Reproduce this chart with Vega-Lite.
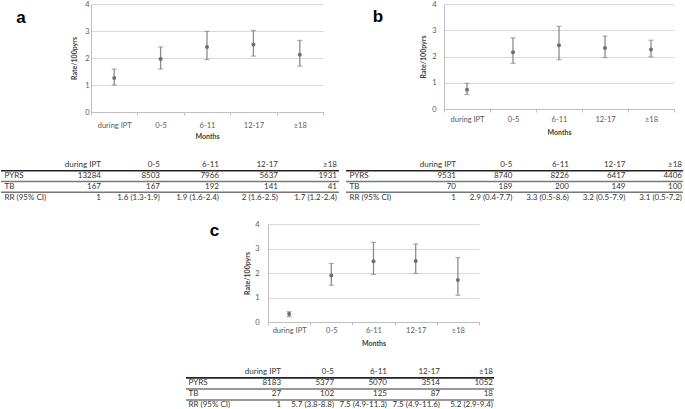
{
  "$schema": "https://vega.github.io/schema/vega-lite/v6.json",
  "padding": 0,
  "spacing": 0,
  "datasets": {
    "est": [
      {"panel": "a", "period": "during IPT", "rate": 1.26, "lo": 1.0, "hi": 1.59},
      {"panel": "a", "period": "0-5", "rate": 1.96, "lo": 1.59, "hi": 2.41},
      {"panel": "a", "period": "6-11", "rate": 2.41, "lo": 1.94, "hi": 2.99},
      {"panel": "a", "period": "12-17", "rate": 2.5, "lo": 2.07, "hi": 3.02},
      {"panel": "a", "period": "≥18", "rate": 2.12, "lo": 1.7, "hi": 2.65},
      {"panel": "b", "period": "during IPT", "rate": 0.73, "lo": 0.55, "hi": 0.98},
      {"panel": "b", "period": "0-5", "rate": 2.16, "lo": 1.74, "hi": 2.71},
      {"panel": "b", "period": "6-11", "rate": 2.43, "lo": 1.88, "hi": 3.15},
      {"panel": "b", "period": "12-17", "rate": 2.32, "lo": 1.96, "hi": 2.78},
      {"panel": "b", "period": "≥18", "rate": 2.27, "lo": 1.99, "hi": 2.62},
      {"panel": "c", "period": "during IPT", "rate": 0.33, "lo": 0.22, "hi": 0.42},
      {"panel": "c", "period": "0-5", "rate": 1.9, "lo": 1.5, "hi": 2.39},
      {"panel": "c", "period": "6-11", "rate": 2.48, "lo": 1.94, "hi": 3.25},
      {"panel": "c", "period": "12-17", "rate": 2.49, "lo": 1.98, "hi": 3.18},
      {"panel": "c", "period": "≥18", "rate": 1.71, "lo": 1.09, "hi": 2.63}
    ],
    "tbl": [
      {"panel": "a", "row": "hdr", "during IPT": "during IPT", "0-5": "0-5", "6-11": "6-11", "12-17": "12-17", "≥18": "≥18"},
      {"panel": "a", "row": "PYRS", "during IPT": "13284", "0-5": "8503", "6-11": "7966", "12-17": "5637", "≥18": "1931"},
      {"panel": "a", "row": "TB", "during IPT": "167", "0-5": "167", "6-11": "192", "12-17": "141", "≥18": "41"},
      {"panel": "a", "row": "RR (95% CI)", "during IPT": "1", "0-5": "1.6 (1.3-1.9)", "6-11": "1.9 (1.6-2.4)", "12-17": "2 (1.6-2.5)", "≥18": "1.7 (1.2-2.4)"},
      {"panel": "b", "row": "hdr", "during IPT": "during IPT", "0-5": "0-5", "6-11": "6-11", "12-17": "12-17", "≥18": "≥18"},
      {"panel": "b", "row": "PYRS", "during IPT": "9531", "0-5": "8740", "6-11": "8226", "12-17": "6417", "≥18": "4406"},
      {"panel": "b", "row": "TB", "during IPT": "70", "0-5": "189", "6-11": "200", "12-17": "149", "≥18": "100"},
      {"panel": "b", "row": "RR (95% CI)", "during IPT": "1", "0-5": "2.9 (0.4-7.7)", "6-11": "3.3 (0.5-8.6)", "12-17": "3.2 (0.5-7.9)", "≥18": "3.1 (0.5-7.2)"},
      {"panel": "c", "row": "hdr", "during IPT": "during IPT", "0-5": "0-5", "6-11": "6-11", "12-17": "12-17", "≥18": "≥18"},
      {"panel": "c", "row": "PYRS", "during IPT": "8183", "0-5": "5377", "6-11": "5070", "12-17": "3514", "≥18": "1052"},
      {"panel": "c", "row": "TB", "during IPT": "27", "0-5": "102", "6-11": "125", "12-17": "87", "≥18": "18"},
      {"panel": "c", "row": "RR (95% CI)", "during IPT": "1", "0-5": "5.7 (3.8-8.8)", "6-11": "7.5 (4.9-11.3)", "12-17": "7.5 (4.9-11.6)", "≥18": "5.2 (2.9-9.4)"}
    ]
  },
  "vconcat": [
    {
      "hconcat": [
        {
          "width": 90, "height": 38,
          "data": {"values": [{"label": "a"}]},
          "mark": {"type": "text", "font": "Liberation Sans", "fontSize": 17, "fontWeight": "bold", "color": "#000", "baseline": "alphabetic", "align": "center", "dx": -25},
          "encoding": {"text": {"field": "label"}}
        },
        {
          "width": 232, "height": 108,
          "data": {"name": "est"},
          "transform": [{"filter": "datum.panel === 'a'"}],
          "encoding": {"x": {"field": "period", "type": "nominal", "sort": ["during IPT", "0-5", "6-11", "12-17", "≥18"], "scale": {"type": "band", "paddingInner": 0, "paddingOuter": 0}, "axis": {"title": "Months", "labelPadding": 6.5, "titlePadding": 3}}},
          "layer": [
            {"mark": {"type": "rule", "color": "#8c8c8c", "strokeWidth": 1.3},
             "encoding": {"y": {"field": "lo", "type": "quantitative", "scale": {"domain": [0, 4], "nice": false}, "axis": {"title": "Rate/100pyrs", "values": [0, 1, 2, 3, 4], "grid": true, "labelPadding": 2, "titlePadding": 7}}, "y2": {"field": "hi"}}},
            {"mark": {"type": "tick", "color": "#8c8c8c", "size": 5, "thickness": 1.2}, "encoding": {"y": {"field": "lo", "type": "quantitative", "scale": {"domain": [0, 4], "nice": false}, "axis": {"title": "Rate/100pyrs", "values": [0, 1, 2, 3, 4], "grid": true, "labelPadding": 2, "titlePadding": 7}}}},
            {"mark": {"type": "tick", "color": "#8c8c8c", "size": 5, "thickness": 1.2}, "encoding": {"y": {"field": "hi", "type": "quantitative", "scale": {"domain": [0, 4], "nice": false}, "axis": {"title": "Rate/100pyrs", "values": [0, 1, 2, 3, 4], "grid": true, "labelPadding": 2, "titlePadding": 7}}}},
            {"mark": {"type": "circle", "color": "#6e6e6e", "size": 16, "opacity": 1}, "encoding": {"y": {"field": "rate", "type": "quantitative", "scale": {"domain": [0, 4], "nice": false}, "axis": {"title": "Rate/100pyrs", "values": [0, 1, 2, 3, 4], "grid": true, "labelPadding": 2, "titlePadding": 7}}}}
          ]
        },
        {
          "width": 121, "height": 35,
          "data": {"values": [{"label": "b"}]},
          "mark": {"type": "text", "font": "Liberation Sans", "fontSize": 17, "fontWeight": "bold", "color": "#000", "baseline": "alphabetic", "align": "center", "dx": -5.5},
          "encoding": {"text": {"field": "label"}}
        },
        {
          "width": 230, "height": 105,
          "data": {"name": "est"},
          "transform": [{"filter": "datum.panel === 'b'"}],
          "encoding": {"x": {"field": "period", "type": "nominal", "sort": ["during IPT", "0-5", "6-11", "12-17", "≥18"], "scale": {"type": "band", "paddingInner": 0, "paddingOuter": 0}, "axis": {"title": "Months", "labelPadding": 3.7, "titlePadding": 4.8}}},
          "layer": [
            {"mark": {"type": "rule", "color": "#8c8c8c", "strokeWidth": 1.3},
             "encoding": {"y": {"field": "lo", "type": "quantitative", "scale": {"domain": [0, 4], "nice": false}, "axis": {"title": "Rate/100pyrs", "values": [0, 1, 2, 3, 4], "grid": true, "labelPadding": 8, "titlePadding": 5}}, "y2": {"field": "hi"}}},
            {"mark": {"type": "tick", "color": "#8c8c8c", "size": 5, "thickness": 1.2}, "encoding": {"y": {"field": "lo", "type": "quantitative", "scale": {"domain": [0, 4], "nice": false}, "axis": {"title": "Rate/100pyrs", "values": [0, 1, 2, 3, 4], "grid": true, "labelPadding": 8, "titlePadding": 5}}}},
            {"mark": {"type": "tick", "color": "#8c8c8c", "size": 5, "thickness": 1.2}, "encoding": {"y": {"field": "hi", "type": "quantitative", "scale": {"domain": [0, 4], "nice": false}, "axis": {"title": "Rate/100pyrs", "values": [0, 1, 2, 3, 4], "grid": true, "labelPadding": 8, "titlePadding": 5}}}},
            {"mark": {"type": "circle", "color": "#6e6e6e", "size": 16, "opacity": 1}, "encoding": {"y": {"field": "rate", "type": "quantitative", "scale": {"domain": [0, 4], "nice": false}, "axis": {"title": "Rate/100pyrs", "values": [0, 1, 2, 3, 4], "grid": true, "labelPadding": 8, "titlePadding": 5}}}}
          ]
        }
      ],
      "spacing": 0,
      "bounds": "flush"
    },
    {
      "hconcat": [
        {
          "width": 338, "height": 64,
          "data": {"name": "tbl"},
          "transform": [{"filter": "datum.panel === 'a'"}, {"fold": ["during IPT", "0-5", "6-11", "12-17", "≥18"], "as": ["col", "val"]}],
          "encoding": {"y": {"field": "row", "type": "nominal", "sort": ["hdr", "PYRS", "TB", "RR (95% CI)"], "scale": {"type": "band", "paddingInner": 0, "paddingOuter": 0.977, "align": 1},
            "axis": {"title": null, "domain": false, "ticks": false, "grid": false, "labelAlign": "left", "labelPadding": -3, "labelFontSize": 8, "labelColor": "#333", "labelExpr": "datum.value === 'hdr' ? '' : datum.value"}}},
          "layer": [
            {"mark": {"type": "text", "align": "right", "baseline": "middle", "dx": -2},
             "encoding": {"x": {"field": "col", "type": "nominal", "sort": ["during IPT", "0-5", "6-11", "12-17", "≥18"], "bandPosition": 1, "scale": {"type": "band", "paddingInner": 0, "paddingOuter": 0.364, "align": 1}, "axis": null}, "text": {"field": "val"}}},
            {"transform": [{"filter": "datum.col === 'during IPT' && datum.row !== 'hdr'"}],
             "mark": {"type": "rule", "strokeWidth": 1.6},
             "encoding": {"y": {"field": "row", "type": "nominal", "sort": ["hdr", "PYRS", "TB", "RR (95% CI)"], "bandPosition": 0}, "color": {"condition": {"test": "datum.row === 'PYRS'", "value": "#222"}, "value": "#777"}}}
          ]
        },
        {
          "width": 7, "height": 80.5,
          "data": {"values": [{"label": ""}]},
          "mark": {"type": "text"},
          "encoding": {"text": {"field": "label"}}
        },
        {
          "width": 337, "height": 64,
          "data": {"name": "tbl"},
          "transform": [{"filter": "datum.panel === 'b'"}, {"fold": ["during IPT", "0-5", "6-11", "12-17", "≥18"], "as": ["col", "val"]}],
          "encoding": {"y": {"field": "row", "type": "nominal", "sort": ["hdr", "PYRS", "TB", "RR (95% CI)"], "scale": {"type": "band", "paddingInner": 0, "paddingOuter": 0.977, "align": 1},
            "axis": {"title": null, "domain": false, "ticks": false, "grid": false, "labelAlign": "left", "labelPadding": -3, "labelFontSize": 8, "labelColor": "#333", "labelExpr": "datum.value === 'hdr' ? '' : datum.value"}}},
          "layer": [
            {"mark": {"type": "text", "align": "right", "baseline": "middle", "dx": -1},
             "encoding": {"x": {"field": "col", "type": "nominal", "sort": ["during IPT", "0-5", "6-11", "12-17", "≥18"], "bandPosition": 1, "scale": {"type": "band", "paddingInner": 0, "paddingOuter": 0.482, "align": 1}, "axis": null}, "text": {"field": "val"}}},
            {"transform": [{"filter": "datum.col === 'during IPT' && datum.row !== 'hdr'"}],
             "mark": {"type": "rule", "strokeWidth": 1.6},
             "encoding": {"y": {"field": "row", "type": "nominal", "sort": ["hdr", "PYRS", "TB", "RR (95% CI)"], "bandPosition": 0}, "color": {"condition": {"test": "datum.row === 'PYRS'", "value": "#222"}, "value": "#777"}}}
          ]
        }
      ],
      "spacing": 0,
      "bounds": "flush"
    },
    {
      "hconcat": [
        {
          "width": 267, "height": 23.4,
          "data": {"values": [{"label": "c"}]},
          "mark": {"type": "text", "font": "Liberation Sans", "fontSize": 17, "fontWeight": "bold", "color": "#000", "baseline": "alphabetic", "align": "center", "dx": 80},
          "encoding": {"text": {"field": "label"}}
        },
        {
          "width": 211, "height": 98,
          "data": {"name": "est"},
          "transform": [{"filter": "datum.panel === 'c'"}],
          "encoding": {"x": {"field": "period", "type": "nominal", "sort": ["during IPT", "0-5", "6-11", "12-17", "≥18"], "scale": {"type": "band", "paddingInner": 0, "paddingOuter": 0}, "axis": {"title": "Months", "labelPadding": 1.5, "titlePadding": 5.3}}},
          "layer": [
            {"mark": {"type": "rule", "color": "#8c8c8c", "strokeWidth": 1.3},
             "encoding": {"y": {"field": "lo", "type": "quantitative", "scale": {"domain": [0, 4], "nice": false}, "axis": {"title": "Rate/100pyrs", "values": [0, 1, 2, 3, 4], "grid": true, "labelPadding": 9, "titlePadding": 4}}, "y2": {"field": "hi"}}},
            {"mark": {"type": "tick", "color": "#8c8c8c", "size": 5, "thickness": 1.2}, "encoding": {"y": {"field": "lo", "type": "quantitative", "scale": {"domain": [0, 4], "nice": false}, "axis": {"title": "Rate/100pyrs", "values": [0, 1, 2, 3, 4], "grid": true, "labelPadding": 9, "titlePadding": 4}}}},
            {"mark": {"type": "tick", "color": "#8c8c8c", "size": 5, "thickness": 1.2}, "encoding": {"y": {"field": "hi", "type": "quantitative", "scale": {"domain": [0, 4], "nice": false}, "axis": {"title": "Rate/100pyrs", "values": [0, 1, 2, 3, 4], "grid": true, "labelPadding": 9, "titlePadding": 4}}}},
            {"mark": {"type": "circle", "color": "#6e6e6e", "size": 16, "opacity": 1}, "encoding": {"y": {"field": "rate", "type": "quantitative", "scale": {"domain": [0, 4], "nice": false}, "axis": {"title": "Rate/100pyrs", "values": [0, 1, 2, 3, 4], "grid": true, "labelPadding": 9, "titlePadding": 4}}}}
          ]
        }
      ],
      "spacing": 0,
      "bounds": "flush"
    },
    {
      "hconcat": [
        {
          "width": 185, "height": 10,
          "data": {"values": [{"label": ""}]},
          "mark": {"type": "text"},
          "encoding": {"text": {"field": "label"}}
        },
        {
          "width": 308, "height": 64,
          "data": {"name": "tbl"},
          "transform": [{"filter": "datum.panel === 'c'"}, {"fold": ["during IPT", "0-5", "6-11", "12-17", "≥18"], "as": ["col", "val"]}],
          "encoding": {"y": {"field": "row", "type": "nominal", "sort": ["hdr", "PYRS", "TB", "RR (95% CI)"], "scale": {"type": "band", "paddingInner": 0, "paddingOuter": 0.9, "align": 1},
            "axis": {"title": null, "domain": false, "ticks": false, "grid": false, "labelAlign": "left", "labelPadding": -2, "labelFontSize": 8, "labelColor": "#333", "labelExpr": "datum.value === 'hdr' ? '' : datum.value"}}},
          "layer": [
            {"mark": {"type": "text", "align": "right", "baseline": "middle", "dx": -1},
             "encoding": {"x": {"field": "col", "type": "nominal", "sort": ["during IPT", "0-5", "6-11", "12-17", "≥18"], "bandPosition": 1, "scale": {"type": "band", "paddingInner": 0, "paddingOuter": 0.406, "align": 1}, "axis": null}, "text": {"field": "val"}}},
            {"transform": [{"filter": "datum.col === 'during IPT' && datum.row !== 'hdr'"}],
             "mark": {"type": "rule", "strokeWidth": 1.6},
             "encoding": {"y": {"field": "row", "type": "nominal", "sort": ["hdr", "PYRS", "TB", "RR (95% CI)"], "bandPosition": 0}, "color": {"condition": {"test": "datum.row === 'PYRS'", "value": "#222"}, "value": "#777"}}}
          ]
        }
      ],
      "spacing": 0,
      "bounds": "flush"
    }
  ],
  "config": {
    "font": "Lato",
    "view": {"stroke": null},
    "axis": {"labelFont": "Lato", "titleFont": "Lato", "labelColor": "#595959", "titleColor": "#404040", "titleFontWeight": "bold", "titleFontSize": 7, "labelFontSize": 7.5, "domainColor": "#bfbfbf", "tickColor": "#bfbfbf", "gridColor": "#d9d9d9", "minExtent": 0},
    "axisX": {"labelAngle": 0, "tickBand": "extent", "tickSize": 3, "grid": false},
    "axisY": {"ticks": false},
    "text": {"font": "Lato", "fontSize": 8, "color": "#333"}
  }
}
